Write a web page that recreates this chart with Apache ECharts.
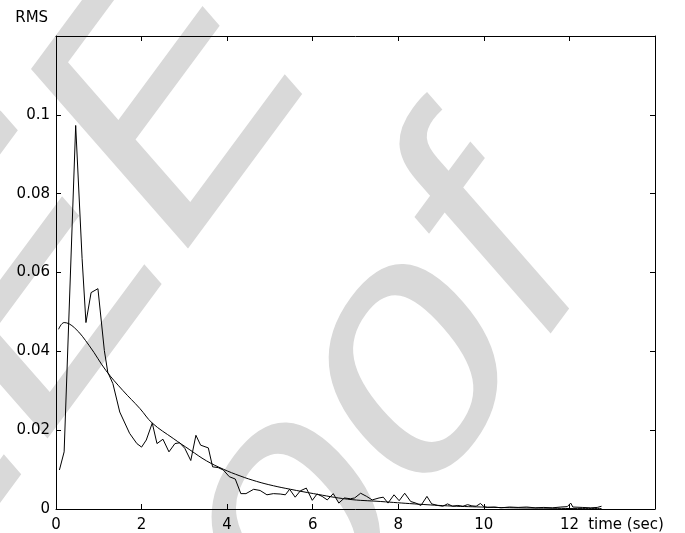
<!DOCTYPE html>
<html>
<head>
<meta charset="utf-8">
<script src="https://cdn.jsdelivr.net/npm/echarts@6/dist/echarts.min.js"></script>
<style>
html,body{margin:0;padding:0;background:#fff;}
#chart{width:685px;height:533px;}
</style>
</head>
<body>
<div id="chart"></div>
<script>
// ---- data ----
const timeMeasured = [0.08,0.19,0.46,0.61,0.70,0.82,0.98,1.13,1.21,1.33,1.49,1.72,1.89,2.00,2.11,2.25,2.36,2.50,2.64,2.78,2.89,3.01,3.15,3.27,3.38,3.56,3.66,3.79,3.91,4.05,4.19,4.32,4.44,4.62,4.77,4.93,5.08,5.24,5.36,5.46,5.59,5.71,5.85,5.99,6.10,6.22,6.34,6.48,6.61,6.74,6.88,6.98,7.12,7.26,7.39,7.55,7.65,7.76,7.90,8.02,8.15,8.29,8.41,8.53,8.67,8.78,8.92,9.04,9.15,9.27,9.39,9.51,9.62,9.72,9.82,9.92,10.00,10.08,10.25,10.40,10.60,10.80,11.00,11.20,11.40,11.60,11.80,11.95,12.03,12.08,12.30,12.50,12.65,12.75];
const rmsMeasured = [0.0099,0.0145,0.0973,0.0635,0.0473,0.0549,0.0559,0.0402,0.0347,0.0318,0.0246,0.0192,0.0166,0.0157,0.0175,0.0218,0.0166,0.0177,0.0145,0.0166,0.0168,0.0154,0.0123,0.0187,0.0162,0.0155,0.0107,0.0105,0.0099,0.0082,0.0076,0.0039,0.0039,0.0050,0.0047,0.0036,0.0039,0.0038,0.0036,0.0050,0.0030,0.0046,0.0053,0.0022,0.0038,0.0032,0.0023,0.0039,0.0015,0.0028,0.0026,0.0028,0.0040,0.0032,0.0023,0.0028,0.0030,0.0015,0.0036,0.0021,0.0040,0.0019,0.0015,0.0009,0.0032,0.0013,0.0009,0.0007,0.0013,0.0007,0.0009,0.0007,0.0011,0.0008,0.0007,0.0014,0.0006,0.0004,0.0005,0.0003,0.0005,0.0004,0.0005,0.0003,0.0004,0.0003,0.0005,0.0006,0.0015,0.0005,0.0004,0.0003,0.0004,0.0007];
const timeFit = [0.06,0.19,0.43,0.78,1.17,1.56,1.96,2.25,2.74,3.13,3.52,3.91,4.30,4.69,5.08,5.48,6.02,6.81,7.59,8.37,9.15,9.94,10.7,11.5,12.3,12.75];
const rmsFit = [0.0456,0.0473,0.0460,0.0414,0.0351,0.0301,0.0255,0.0218,0.0179,0.0150,0.0122,0.0101,0.0084,0.0070,0.0059,0.0050,0.0039,0.0025,0.0019,0.0013,0.0008,0.0005,0.0003,0.0002,0.0001,0.0001];
const xRange = [0, 14];
const xStep = 2;
const yRange = [0, 0.12];
const yStep = 0.02;
const xName = 'time (sec)';
const yName = 'RMS';
const watermarkText = 'IEEE Proof';

// ---- watermark transform (sheared diagonal text) ----
const WF = 300;
const Bem = [210.6, -285], Uem = [-228.2, -260.8];
const ma = Bem[0]/WF, mc = Bem[1]/WF, mb = -Uem[0]/WF, md = -Uem[1]/WF;
const sE = (ma+md)/2, sF = (ma-md)/2, sG = (mc+mb)/2, sH = (mc-mb)/2;
const sQ = Math.hypot(sE, sH), sR = Math.hypot(sF, sG);
const sc1 = sQ + sR, sc2 = sQ - sR;
const ang1 = Math.atan2(sG, sF), ang2 = Math.atan2(sH, sE);
const rotTh = (ang2 - ang1)/2, rotPh = (ang2 + ang1)/2;
const midOff = 0.275;
const wmStyle = {text: watermarkText, fontSize: WF, fontFamily: 'Liberation Sans', fontWeight: 'normal', fill: '#d9d9d9', align: 'left', verticalAlign: 'middle'};

const font = 'DejaVu Sans';
const fmt = v => String(parseFloat(v.toFixed(4)));

const chart = echarts.init(document.getElementById('chart'), null, {renderer: 'canvas'});
const axisCommon = {
  type: 'value',
  splitLine: {show: false},
  axisLine: {show: true, onZero: false, lineStyle: {color: '#000', width: 1}},
  axisTick: {show: true, inside: true, length: 5, lineStyle: {color: '#000', width: 1}}
};
chart.setOption({
  animation: false,
  backgroundColor: '#fff',
  grid: {left: 56, right: 30, top: 36, bottom: 24, containLabel: false},
  xAxis: [
    Object.assign({}, axisCommon, {position: 'bottom', min: xRange[0], max: xRange[1], interval: xStep,
      axisLabel: {color: '#000', fontSize: 15, fontFamily: font, margin: 9,
        formatter: v => (v >= xRange[1] ? '' : fmt(v))}}),
    Object.assign({}, axisCommon, {position: 'top', min: xRange[0], max: xRange[1], interval: xStep,
      axisLabel: {show: false}})
  ],
  yAxis: [
    Object.assign({}, axisCommon, {position: 'left', min: yRange[0], max: yRange[1], interval: yStep,
      axisLabel: {color: '#000', fontSize: 15, fontFamily: font, margin: 6,
        formatter: v => (v >= yRange[1] - 1e-9 ? '' : fmt(v))}}),
    Object.assign({}, axisCommon, {position: 'right', min: yRange[0], max: yRange[1], interval: yStep,
      axisLabel: {show: false}})
  ],
  graphic: [
    {type: 'group', x: 414, y: 370, rotation: -rotPh, silent: true, z: -5,
      children: [{type: 'group', scaleX: sc1, scaleY: sc2, z: -5,
        children: [{type: 'group', rotation: -rotTh, z: -5,
          children: [
            {type: 'text', z: -5, x: -4.391*WF, y: (0.26 - midOff)*WF, style: wmStyle},
            {type: 'text', z: -5, x: -1.954*WF, y: (-0.751 - midOff)*WF, style: wmStyle}
          ]}]}]},
    {type: 'text', x: 31.7, y: 18, z: 10, silent: true,
      style: {text: yName, fontSize: 15, fontFamily: font, fill: '#000', align: 'center', verticalAlign: 'middle'}},
    {type: 'text', x: 626, y: 525, z: 10, silent: true,
      style: {text: xName, fontSize: 15, fontFamily: font, fill: '#000', align: 'center', verticalAlign: 'middle'}}
  ],
  series: [
    {type: 'line', name: 'measured', xAxisIndex: 0, yAxisIndex: 0, showSymbol: false, symbol: 'none',
      data: timeMeasured.map((t, i) => [t, rmsMeasured[i]]),
      lineStyle: {color: '#000', width: 1}, z: 3},
    {type: 'line', name: 'fit', xAxisIndex: 0, yAxisIndex: 0, showSymbol: false, symbol: 'none', smooth: 0.4,
      data: timeFit.map((t, i) => [t, rmsFit[i]]),
      lineStyle: {color: '#000', width: 1}, z: 3}
  ]
});
</script>
</body>
</html>
